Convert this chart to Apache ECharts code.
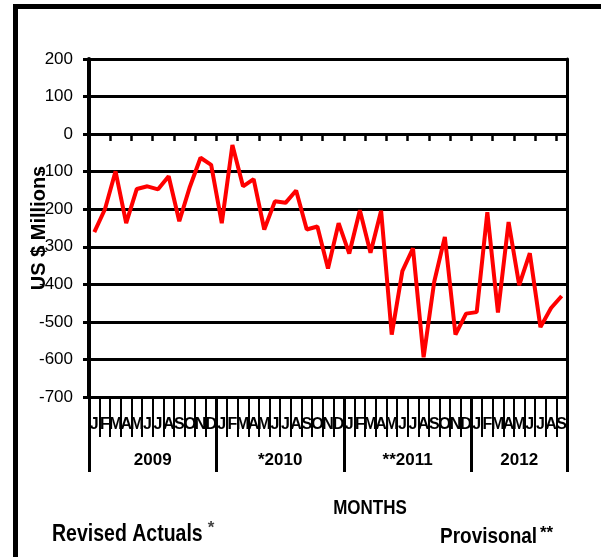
<!DOCTYPE html>
<html>
<head>
<meta charset="utf-8">
<script src="https://cdn.jsdelivr.net/npm/echarts@6/dist/echarts.min.js"></script>
<style>html,body{margin:0;padding:0;background:#fff;}#c{width:601px;height:557px;}</style>
</head>
<body>
<div id="c"></div>
<script>
// ---- data ----
const monthLetters = ['J','F','M','A','M','J','J','A','S','O','N','D',
  'J','F','M','A','M','J','J','A','S','O','N','D',
  'J','F','M','A','M','J','J','A','S','O','N','D',
  'J','F','M','A','M','J','J','A','S'];
const yearLabels = ['2009', '*2010', '**2011', '2012'];
const yearMonthCounts = [12, 12, 12, 9];
const values2009 = [-261, -200, -99, -237, -146, -139, -147, -112, -232, -140, -63, -82];
const values2010 = [-237, -29, -139, -120, -254, -179, -183, -150, -254, -246, -358, -237];
const values2011 = [-318, -203, -316, -204, -534, -365, -304, -594, -393, -274, -534, -478];
const values2012 = [-474, -208, -475, -234, -402, -317, -514, -463, -431];
const yTicks = { min: -700, max: 200, step: 100 };

const values = [].concat(values2009, values2010, values2011, values2012);
const nMonths = monthLetters.length;

// year label positions (centre of each year's block, in month units)
const yearCentres = {};
let acc = 0;
yearMonthCounts.forEach((c, i) => {
  yearCentres[String(acc + c / 2)] = yearLabels[i];
  acc += c;
});

const SANS = "'Liberation Sans', Arial, sans-serif";

const chart = echarts.init(document.getElementById('c'), null, { renderer: 'canvas' });
chart.setOption({
  backgroundColor: '#fff',
  animation: false,
  grid: { left: 89, right: 34, top: 59, bottom: 160, containLabel: false },
  xAxis: [
    { // data axis, sits on zero line
      type: 'category', data: monthLetters, position: 'bottom',
      axisLine: { onZero: true, lineStyle: { color: '#000', width: 3 } },
      axisTick: { show: true, length: 7, inside: false, lineStyle: { color: '#000', width: 2.5 } },
      axisLabel: { show: false }, splitLine: { show: false }
    },
    { // month letters at bottom
      type: 'category', data: monthLetters, position: 'bottom',
      axisLine: { onZero: false, show: true, lineStyle: { color: '#000', width: 3 } },
      axisTick: { show: true, length: 40, lineStyle: { color: '#000', width: 2 } },
      axisLabel: { show: true, interval: 0, hideOverlap: false, margin: 20, color: '#000',
        fontFamily: SANS, fontWeight: 'bold', fontSize: 16 },
      splitLine: { show: false }
    },
    { // year labels
      type: 'value', min: 0, max: nMonths, interval: 1.5, position: 'bottom',
      axisLine: { show: false, onZero: false }, axisTick: { show: false }, splitLine: { show: false },
      axisLabel: { show: true, margin: 55, color: '#000', fontFamily: SANS, fontWeight: 'bold', fontSize: 17,
        hideOverlap: false, showMinLabel: true, showMaxLabel: true,
        formatter: v => yearCentres[String(Math.round(v * 2) / 2)] || '' }
    },
    { // year separators
      type: 'value', min: 0, max: nMonths, interval: yearMonthCounts[0], position: 'bottom',
      axisLine: { show: false, onZero: false },
      axisTick: { show: true, length: 75, lineStyle: { color: '#000', width: 3 } },
      axisLabel: { show: false }, splitLine: { show: false }
    }
  ],
  yAxis: [
    {
      type: 'value', min: yTicks.min, max: yTicks.max, interval: yTicks.step, position: 'left',
      axisLine: { show: true, onZero: false, lineStyle: { color: '#000', width: 4 } },
      axisTick: { show: true, length: 6, lineStyle: { color: '#000', width: 3 } },
      splitLine: { show: true, lineStyle: { color: '#000', width: 3 } },
      axisLabel: { margin: 16, color: '#000', fontFamily: SANS, fontSize: 17 },
      name: 'US $ Millions', nameLocation: 'middle', nameRotate: 90, nameGap: 43,
      nameMoveOverlap: false,
      nameTextStyle: { color: '#000', fontFamily: SANS, fontWeight: 'bold', fontSize: 20,
        backgroundColor: '#fff', lineHeight: 14 }
    },
    {
      type: 'value', min: yTicks.min, max: yTicks.max, interval: yTicks.step, position: 'right',
      axisLine: { show: true, onZero: false, lineStyle: { color: '#000', width: 3 } },
      axisTick: { show: false }, axisLabel: { show: false }, splitLine: { show: false }
    }
  ],
  series: [{
    type: 'line', xAxisIndex: 0, yAxisIndex: 0, data: values,
    symbol: 'none', z: 10,
    lineStyle: { color: '#ff0000', width: 4 }
  }],
  graphic: [
    { type: 'rect', shape: { x: 15.5, y: 6.5, width: 800, height: 800 },
      style: { fill: 'none', stroke: '#000', lineWidth: 5 }, silent: true },
    { type: 'text', x: 370, y: 508, scaleY: 1.2, style: { text: 'MONTHS', align: 'center', verticalAlign: 'middle',
      fill: '#000', font: "bold 17px " + SANS } },
    { type: 'text', x: 52, y: 535, scaleY: 1.2, style: { text: 'Revised Actuals', align: 'left', verticalAlign: 'middle',
      fill: '#000', font: "bold 19.5px " + SANS } },
    { type: 'text', x: 211, y: 528, style: { text: '*', align: 'center', verticalAlign: 'middle',
      fill: '#444', font: "bold 17px " + SANS } },
    { type: 'text', x: 440, y: 537, scaleY: 1.2, style: { text: 'Provisonal', align: 'left', verticalAlign: 'middle',
      fill: '#000', font: "bold 19px " + SANS } },
    { type: 'text', x: 540, y: 533, style: { text: '**', align: 'left', verticalAlign: 'middle',
      fill: '#000', font: "bold 17px " + SANS } }
  ]
});
</script>
</body>
</html>
